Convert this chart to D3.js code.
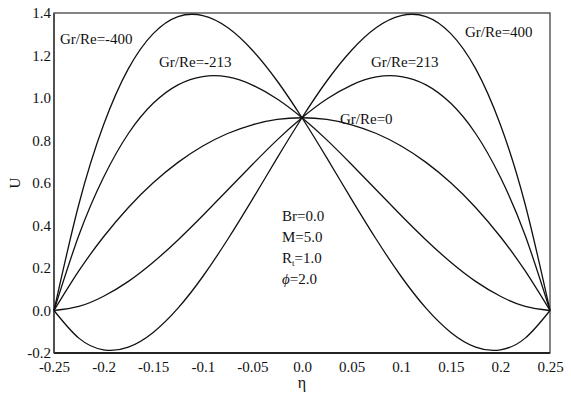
<!DOCTYPE html>
<html>
<head>
<meta charset="utf-8">
<script src="https://cdn.jsdelivr.net/npm/d3@7"></script>
<style>
  html, body { margin: 0; padding: 0; background: #fff; }
  svg { display: block; }
  svg text { font-family: "Liberation Serif", "Times New Roman", Tinos, "DejaVu Serif", serif; fill: #111; }
</style>
</head>
<body>
<svg id="chart" width="571" height="398"></svg>
<script>
// Dimensionless velocity U across the channel (eta) for several Gr/Re values
const eta = [-0.25, -0.225, -0.2, -0.175, -0.15, -0.125, -0.1, -0.075, -0.05, -0.025, 0,
             0.025, 0.05, 0.075, 0.1, 0.125, 0.15, 0.175, 0.2, 0.225, 0.25];

const uNeg400 = [0, 0.499, 0.874, 1.138, 1.303, 1.383, 1.388, 1.332, 1.225, 1.080, 0.907,
                 0.718, 0.523, 0.334, 0.160, 0.011, -0.103, -0.172, -0.185, -0.130, 0];
const uNeg213 = [0, 0.353, 0.627, 0.833, 0.975, 1.062, 1.101, 1.099, 1.061, 0.995, 0.907,
                 0.803, 0.687, 0.567, 0.447, 0.332, 0.227, 0.137, 0.067, 0.019, 0];
const uZero   = [0, 0.186, 0.347, 0.485, 0.601, 0.697, 0.774, 0.833, 0.874, 0.899, 0.907,
                 0.899, 0.874, 0.833, 0.774, 0.697, 0.601, 0.485, 0.347, 0.186, 0];
const uPos213 = [0, 0.019, 0.067, 0.137, 0.227, 0.332, 0.447, 0.567, 0.687, 0.803, 0.907,
                 0.995, 1.061, 1.099, 1.101, 1.062, 0.975, 0.833, 0.627, 0.353, 0];
const uPos400 = [0, -0.130, -0.185, -0.172, -0.103, 0.011, 0.160, 0.334, 0.523, 0.718, 0.907,
                 1.080, 1.225, 1.332, 1.388, 1.383, 1.303, 1.138, 0.874, 0.499, 0];

const seriesNames = ["Gr/Re=-400", "Gr/Re=-213", "Gr/Re=0", "Gr/Re=213", "Gr/Re=400"];
const seriesValues = [uNeg400, uNeg213, uZero, uPos213, uPos400];

const xTicks = [-0.25, -0.2, -0.15, -0.1, -0.05, 0, 0.05, 0.1, 0.15, 0.2, 0.25];
const xTickLabels = ["-0.25", "-0.2", "-0.15", "-0.1", "-0.05", "0.0", "0.05", "0.1", "0.15", "0.2", "0.25"];
const yTicks = [-0.2, 0, 0.2, 0.4, 0.6, 0.8, 1.0, 1.2, 1.4];
const yTickLabels = ["-0.2", "0.0", "0.2", "0.4", "0.6", "0.8", "1.0", "1.2", "1.4"];

const params = [["Br", null, "=0.0"], ["M", null, "=5.0"], ["R", "t", "=1.0"], ["\u03D5", null, "=2.0"]];

const svg = d3.select("#chart");
const plot = { left: 54, right: 550, top: 13, bottom: 353 };
const serif = "'Liberation Serif', 'Times New Roman', Tinos, 'DejaVu Serif', serif";

const x = d3.scaleLinear().domain([-0.25, 0.25]).range([plot.left, plot.right]);
const y = d3.scaleLinear().domain([-0.2, 1.4]).range([plot.bottom, plot.top]);

// Axes (labels only, no tick marks)
const xAxis = d3.axisBottom(x).tickValues(xTicks).tickSize(0).tickPadding(8)
  .tickFormat((d, i) => xTickLabels[i]);
const yAxis = d3.axisLeft(y).tickValues(yTicks).tickSize(0).tickPadding(3)
  .tickFormat((d, i) => yTickLabels[i]);

const gx = svg.append("g").attr("transform", `translate(0,${plot.bottom})`).call(xAxis);
const gy = svg.append("g").attr("transform", `translate(${plot.left},0)`).call(yAxis);
[gx, gy].forEach(g => {
  g.attr("font-family", serif).attr("font-size", 15);
  g.select(".domain").remove();
  g.selectAll("text").attr("fill", "#111");
});

// Frame
svg.append("rect")
  .attr("x", plot.left).attr("y", plot.top)
  .attr("width", plot.right - plot.left).attr("height", plot.bottom - plot.top)
  .attr("fill", "none").attr("stroke", "#333").attr("stroke-width", 1.2);
svg.append("line")
  .attr("x1", plot.left).attr("x2", plot.right).attr("y1", plot.bottom).attr("y2", plot.bottom)
  .attr("stroke", "#222").attr("stroke-width", 2);
svg.append("line")
  .attr("x1", plot.left).attr("x2", plot.left).attr("y1", plot.top).attr("y2", plot.bottom)
  .attr("stroke", "#444").attr("stroke-width", 1.6);

// Curves
const line = d3.line()
  .x((d, i) => x(eta[i]))
  .y(d => y(d))
  .curve(d3.curveNatural);

svg.append("g").selectAll("path")
  .data(seriesValues)
  .join("path")
  .attr("d", d => line(d))
  .attr("fill", "none")
  .attr("stroke", "#111")
  .attr("stroke-width", 1.3);

// Curve labels
const curveLabels = [
  { text: seriesNames[0], x: 60, y: 44 },
  { text: seriesNames[1], x: 159, y: 67 },
  { text: seriesNames[2], x: 340, y: 124 },
  { text: seriesNames[3], x: 371, y: 67 },
  { text: seriesNames[4], x: 465, y: 37 }
];
svg.append("g").attr("font-family", serif).selectAll("text")
  .data(curveLabels)
  .join("text")
  .attr("x", d => d.x).attr("y", d => d.y)
  .attr("font-size", 15)
  .text(d => d.text);

// Parameter block
const pg = svg.append("g").attr("font-family", serif);
params.forEach((p, i) => {
  const t = pg.append("text").attr("x", 282).attr("y", 221 + i * 21).attr("font-size", 15);
  if (i === 3) {
    t.append("tspan").attr("font-style", "italic").text(p[0]);
  } else {
    t.append("tspan").text(p[0]);
  }
  if (p[1]) {
    t.append("tspan").attr("font-size", 9).attr("dy", 3).text(p[1]);
    t.append("tspan").attr("dy", -3).text(p[2]);
  } else {
    t.append("tspan").text(p[2]);
  }
});

// Axis titles
svg.append("text")
  .attr("x", 302).attr("y", 388)
  .attr("text-anchor", "middle").attr("font-size", 16)
  .attr("font-family", serif)
  .text("\u03B7");
svg.append("text")
  .attr("transform", "translate(20,183) rotate(-90)")
  .attr("text-anchor", "middle").attr("font-size", 15)
  .attr("font-family", serif)
  .text("U");
</script>
</body>
</html>
